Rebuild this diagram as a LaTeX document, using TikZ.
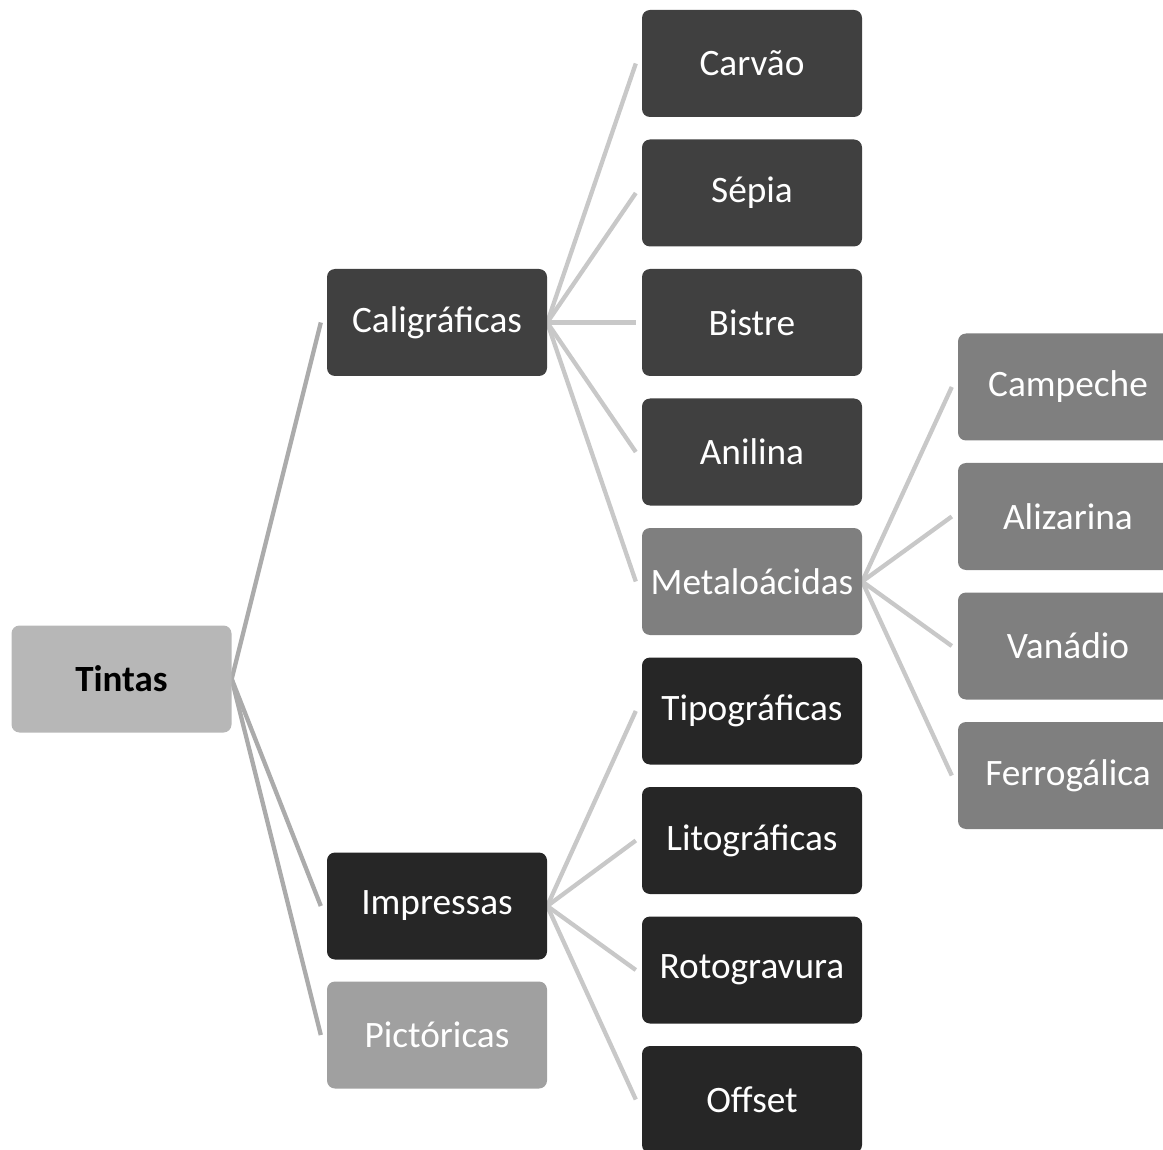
\documentclass[tikz,border=0pt]{standalone}
\usepackage{fontspec}
\setmainfont{Carlito}
\usetikzlibrary{backgrounds}
\definecolor{cRoot}{HTML}{B7B7B7}
\definecolor{cDark}{HTML}{404040}
\definecolor{cBlack}{HTML}{262626}
\definecolor{cMid}{HTML}{7F7F7F}
\definecolor{cLight}{HTML}{A0A0A0}
\definecolor{cEdgeA}{HTML}{ABABAB}
\definecolor{cEdgeB}{HTML}{C8C8C8}
\tikzset{
  box/.style={rectangle, rounded corners=8pt, minimum width=220pt, minimum height=107pt,
    inner sep=0pt, text=white, font=\fontsize{37.3}{40}\selectfont},
  rootbox/.style={box, fill=cRoot, text=black, font=\fontsize{37}{40}\selectfont\bfseries},
  darkbox/.style={box, fill=cDark},
  blackbox/.style={box, fill=cBlack},
  midbox/.style={box, fill=cMid},
  lightbox/.style={box, fill=cLight, text=white},
  edgeA/.style={draw=cEdgeA, line width=4.3pt},
  edgeB/.style={draw=cEdgeB, line width=4.3pt},
}
\begin{document}
\begin{tikzpicture}[x=1pt,y=-1pt]
\useasboundingbox (0,0) rectangle (1163,1150);
\node[rootbox] (tintas) at (121.5,679) {Tintas};
\node[darkbox] (cali) at (437,322.5) {Caligráficas};
\node[blackbox] (impr) at (437,906) {Impressas};
\node[lightbox] (pict) at (437,1035) {Pictóricas};

\node[darkbox] (carvao) at (752,63.5) {Carvão};
\node[darkbox] (sepia) at (752,193) {Sépia};
\node[darkbox] (bistre) at (752,322.5) {Bistre};
\node[darkbox] (anilina) at (752,452) {Anilina};
\node[midbox] (metal) at (752,581.5) {Metaloácidas};
\node[blackbox] (tipo) at (752,711) {Tipográficas};
\node[blackbox] (lito) at (752,840.5) {Litográficas};
\node[blackbox] (roto) at (752,970) {Rotogravura};
\node[blackbox] (offset) at (752,1099.5) {Offset};

\node[midbox] (campeche) at (1068,387) {Campeche};
\node[midbox] (aliz) at (1068,516.5) {Alizarina};
\node[midbox] (vana) at (1068,646) {Vanádio};
\node[midbox] (ferro) at (1068,775.5) {Ferrogálica};

\begin{scope}[on background layer]
\foreach \c in {cali,impr,pict}
  \draw[edgeA] (tintas.east) -- ([xshift=-6pt]\c.west);
\foreach \c in {carvao,sepia,bistre,anilina,metal}
  \draw[edgeB] (cali.east) -- ([xshift=-6pt]\c.west);
\foreach \c in {tipo,lito,roto,offset}
  \draw[edgeB] (impr.east) -- ([xshift=-6pt]\c.west);
\foreach \c in {campeche,aliz,vana,ferro}
  \draw[edgeB] (metal.east) -- ([xshift=-6pt]\c.west);
\end{scope}
\end{tikzpicture}
\end{document}
